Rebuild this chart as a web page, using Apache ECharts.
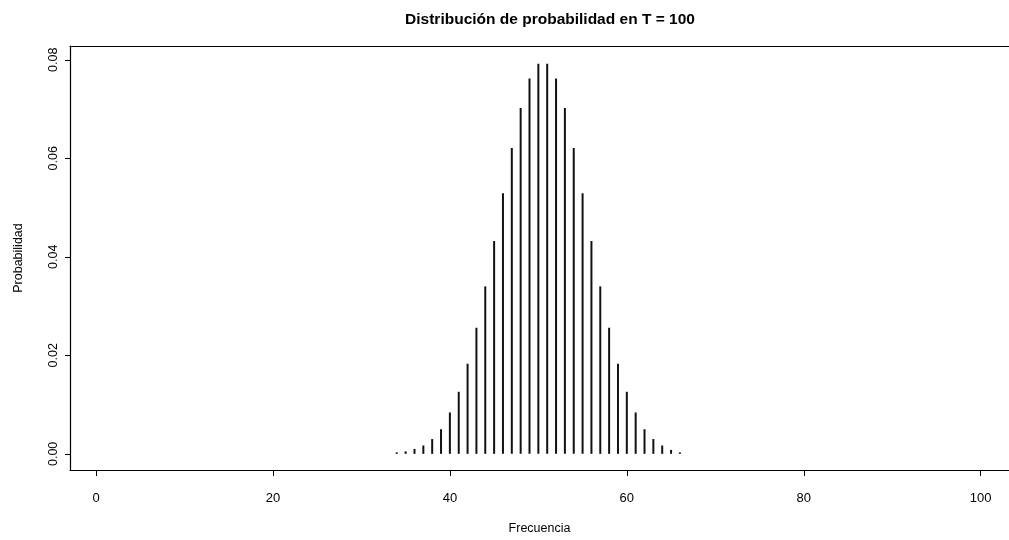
<!DOCTYPE html>
<html>
<head>
<meta charset="utf-8">
<script src="https://cdn.jsdelivr.net/npm/echarts@6/dist/echarts.min.js"></script>
<style>
  html, body { margin: 0; padding: 0; background: #fff; }
  #chart { width: 1009px; height: 540px; }
</style>
</head>
<body>
<div id="chart"></div>
<script>
// Frequencies (x) and their probabilities at T = 100
const frecuencias = [34, 35, 36, 37, 38, 39, 40, 41, 42, 43, 44, 45, 46, 47, 48, 49, 50,
                     51, 52, 53, 54, 55, 56, 57, 58, 59, 60, 61, 62, 63, 64, 65, 66];
const probabilidades = [0.0003, 0.0005, 0.0010, 0.0017, 0.0030, 0.0050, 0.0084, 0.0126,
                        0.0183, 0.0256, 0.0340, 0.0432, 0.0529, 0.0621, 0.0702, 0.0762, 0.0792,
                        0.0792, 0.0762, 0.0702, 0.0621, 0.0529, 0.0432, 0.0340, 0.0256, 0.0183,
                        0.0126, 0.0084, 0.0050, 0.0030, 0.0017, 0.0008, 0.0003];
const xTicks = [0, 20, 40, 60, 80, 100];
const yTicks = [0, 0.02, 0.04, 0.06, 0.08];

const data = frecuencias.map((f, i) => [f, probabilidades[i]]);
const font = 'Liberation Sans, Arial, sans-serif';
const axisStroke = { color: '#000', width: 1.2 };

const chart = echarts.init(document.getElementById('chart'), null, { renderer: 'canvas' });
chart.setOption({
  animation: false,
  backgroundColor: '#fff',
  title: {
    text: 'Distribución de probabilidad en T = 100',
    left: 545, top: 7, textAlign: 'center',
    textStyle: { fontFamily: font, fontSize: 15.5, fontWeight: 'bold', color: '#000' }
  },
  // plot region runs past the right edge of the page, so no right border is seen
  grid: { left: 70, top: 46, right: 0, bottom: 66, show: false },
  xAxis: [{
    type: 'value', min: -2.94, max: 103.2, position: 'bottom',
    name: 'Frecuencia', nameLocation: 'middle', nameGap: 52,
    nameTextStyle: { fontFamily: font, fontSize: 12.5, color: '#000' },
    axisLine: { show: true, onZero: false, lineStyle: axisStroke },
    axisTick: { show: true, inside: false, length: 6, customValues: xTicks,
                lineStyle: { color: '#000', width: 1 } },
    axisLabel: { customValues: xTicks, margin: 22, fontFamily: font, fontSize: 13, color: '#000' },
    splitLine: { show: false }
  }, {
    // top edge of the box
    type: 'value', min: -2.94, max: 103.2, position: 'top',
    axisLine: { show: true, onZero: false, lineStyle: axisStroke },
    axisTick: { show: false }, axisLabel: { show: false }, splitLine: { show: false }
  }],
  yAxis: {
    type: 'value', min: -0.00328, max: 0.0828, position: 'left',
    name: 'Probabilidad', nameLocation: 'middle', nameGap: 45,
    nameTextStyle: { fontFamily: font, fontSize: 12.5, color: '#000' },
    axisLine: { show: true, onZero: false, lineStyle: axisStroke },
    axisTick: { show: true, inside: false, length: 5, customValues: yTicks,
                lineStyle: { color: '#000', width: 1 } },
    axisLabel: { customValues: yTicks, rotate: 90, margin: 10, fontFamily: font, fontSize: 12.5,
                 color: '#000', formatter: v => v.toFixed(2) },
    splitLine: { show: false }
  },
  series: [{
    type: 'custom',
    xAxisIndex: 0,
    data: data,
    renderItem: function (params, api) {
      const x = api.value(0), y = api.value(1);
      const p0 = api.coord([x, 0]);
      const p1 = api.coord([x, y]);
      return {
        type: 'line',
        shape: { x1: p0[0], y1: p0[1], x2: p1[0], y2: p1[1] },
        style: { stroke: '#111', lineWidth: 2 }
      };
    }
  }]
});
</script>
</body>
</html>
